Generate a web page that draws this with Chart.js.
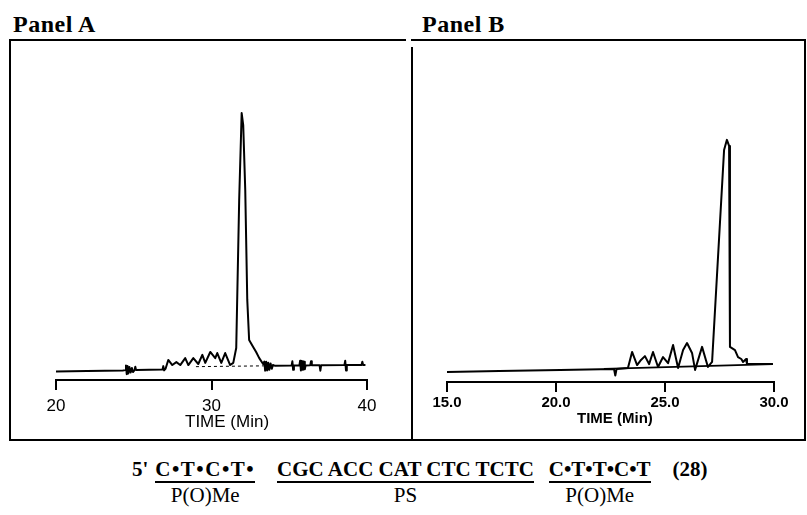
<!DOCTYPE html>
<html>
<head>
<meta charset="utf-8">
<script src="https://cdn.jsdelivr.net/npm/chart.js@4/dist/chart.umd.min.js"></script>
<style>
  html,body{margin:0;padding:0;background:#fff;}
  body{width:807px;height:515px;overflow:hidden;position:relative;}
  .abs{position:absolute;}
  #frame{left:9px;top:39px;width:793px;height:398px;border:2px solid #000;}
  #gap{left:406px;top:37px;width:5px;height:6px;background:#fff;}
  #divider{left:411px;top:47px;width:2px;height:394px;background:#000;}
  .ptitle{font-family:"Liberation Serif",serif;font-weight:bold;font-size:24px;line-height:24px;letter-spacing:0.5px;color:#000;white-space:nowrap;}
  .xtitleA{font-family:"Liberation Sans",Arial,sans-serif;font-size:17px;line-height:17px;color:#000;white-space:nowrap;}
  .xtitleB{font-family:"Liberation Sans",Arial,sans-serif;font-weight:bold;font-size:15px;line-height:15px;color:#000;white-space:nowrap;}
  #seq{left:132px;top:459px;display:flex;align-items:flex-start;font-family:"Liberation Serif",serif;font-size:21px;color:#000;white-space:nowrap;}
  .grp{display:flex;flex-direction:column;align-items:center;}
  .s{font-weight:bold;line-height:21px;}
  .u{border-bottom:2px solid #000;padding-bottom:1px;}
  .l{line-height:21px;margin-top:2px;}
  canvas{position:absolute;}
</style>
</head>
<body>
<div id="frame" class="abs"></div>
<div id="gap" class="abs"></div>
<div id="divider" class="abs"></div>
<div class="abs ptitle" style="left:13px;top:12px;">Panel A</div>
<div class="abs ptitle" style="left:422px;top:12px;">Panel B</div>
<canvas id="chartA" width="351" height="375" style="left:36px;top:45px;"></canvas>
<canvas id="chartB" width="367" height="377" style="left:427px;top:45px;"></canvas>
<div class="abs xtitleA" style="left:185px;top:413px;">TIME (Min)</div>
<div class="abs xtitleB" style="left:577px;top:410px;">TIME (Min)</div>
<div id="seq" class="abs">
  <div class="grp"><span class="s">5'</span></div>
  <div style="width:7px"></div>
  <div class="grp"><span class="s u" style="letter-spacing:1.5px">C•T•C•T•</span><span class="l">P(O)Me</span></div>
  <div style="width:22px"></div>
  <div class="grp"><span class="s u">CGC ACC CAT CTC TCTC</span><span class="l">PS</span></div>
  <div style="width:15px"></div>
  <div class="grp"><span class="s u">C•T•T•C•T</span><span class="l">P(O)Me</span></div>
  <div style="width:22px"></div>
  <div class="grp"><span class="s">(28)</span></div>
</div>
<script>
// ---------- Panel A data (time in min, detector signal, main peak = 100) ----------
const timeA = [20.0,22.0,24.3,24.45,24.5,24.55,24.6,24.65,24.72,24.8,24.88,24.95,25.05,25.1,25.15,
  26.85,26.9,26.95,27.05,27.22,27.48,27.74,27.99,28.31,28.51,28.83,29.15,29.41,29.6,29.92,30.24,30.37,30.63,30.88,31.2,31.4,
  31.59,31.78,31.94,32.04,32.17,32.3,32.42,32.68,32.87,33.07,33.32,
  33.4,33.45,33.52,33.58,33.65,33.72,33.8,33.88,33.95,34.1,
  35.15,35.2,35.25,35.3,35.65,35.7,35.75,35.82,35.88,35.95,36.0,36.05,36.35,36.4,36.45,36.95,37.0,37.05,
  38.55,38.6,38.65,38.7,39.65,39.7,39.75,39.9];
const signalA = [3.2,3.4,3.6,3.7,5.4,2.2,5.2,2.4,4.9,2.8,4.5,3.0,3.7,5.0,3.7,
  3.9,5.2,3.6,4.3,7.5,5.6,6.7,5.6,8.2,5.6,8.2,6.0,9.4,6.4,10.5,8.2,10.1,6.4,10.1,5.6,6.4,
  12.0,67.4,100,95.5,71.2,30.0,15.0,12.4,10.5,8.2,6.0,
  6.9,3.5,6.8,3.6,6.5,3.8,6.2,4.2,5.6,5.3,
  5.4,7.0,3.8,5.4,5.4,7.2,3.6,7.0,3.8,6.8,4.0,5.4,5.5,7.0,5.5,5.5,3.5,5.5,
  5.6,7.2,3.6,5.6,5.6,6.8,5.6,5.6];
const baseTimeA = [29.0,33.4];
const baseSignalA = [5.0,5.3];
const ticksA = {min:20, max:40, step:10};

// ---------- Panel B data ----------
const timeB = [15.0,17.4,20.2,22.66,22.72,22.78,23.3,23.49,23.72,23.9,24.08,24.27,24.45,24.68,24.91,25.14,25.37,25.6,
  25.83,26.01,26.24,26.38,26.7,26.97,27.16,27.71,27.84,27.94,27.98,28.21,28.35,28.5,28.58,28.72,28.76,28.81,29.95];
const signalB = [4.1,4.5,5.0,5.4,2.7,5.4,5.8,12.4,7.0,9.1,10.7,7.4,12.4,6.2,10.3,7.8,15.3,5.8,
  13.2,16.1,12.0,5.0,14.5,6.2,8.3,95.8,100,97.5,14.5,13.2,10.3,9.5,8.3,9.5,7.4,7.4,7.4];
const baseTimeB = [22.2,29.95];
const baseSignalB = [5.4,7.4];
const ticksB = {min:15, max:30, step:5};

function pts(t, s){ return t.map((v,i)=>({x:v, y:s[i]})); }

function makeChart(id, trace, base, dashed, tk, ymax, fontCfg, tickPad, fmt){
  return new Chart(document.getElementById(id), {
    type:'line',
    data:{datasets:[
      {data:base, borderColor:'#000', borderWidth: dashed?1:1.6, borderDash: dashed?[3,3]:[], pointRadius:0, fill:false},
      {data:trace, borderColor:'#000', borderWidth:2, pointRadius:0, fill:false}
    ]},
    options:{
      responsive:false, animation:false, devicePixelRatio:1,
      layout:{padding:{left:20,right:20,top:5,bottom:0}},
      plugins:{legend:{display:false}, tooltip:{enabled:false}, title:{display:false}},
      elements:{line:{tension:0, borderJoinStyle:'round'}, point:{radius:0}},
      scales:{
        x:{type:'linear', min:tk.min, max:tk.max,
           afterFit:(s)=>{s.height=40;},
           ticks:{stepSize:tk.step, color:'#000', font:fontCfg, padding:tickPad, maxRotation:0, autoSkip:false,
                  callback:fmt},
           grid:{display:true, drawOnChartArea:false, drawTicks:true, tickLength:10, color:'#000', lineWidth:2},
           border:{display:true, color:'#000', width:2}
        },
        y:{display:false, min:0, max:ymax}
      }
    }
  });
}

makeChart('chartA', pts(timeA,signalA), pts(baseTimeA,baseSignalA), true, ticksA, 123.6,
  {family:'Liberation Sans', size:17, lineHeight:1}, 8, (v)=>String(v));
makeChart('chartB', pts(timeB,signalB), pts(baseTimeB,baseSignalB), false, ticksB, 137.1,
  {family:'Liberation Sans', size:15, weight:'bold', lineHeight:1}, 3, (v)=>Number(v).toFixed(1));
</script>
</body>
</html>
